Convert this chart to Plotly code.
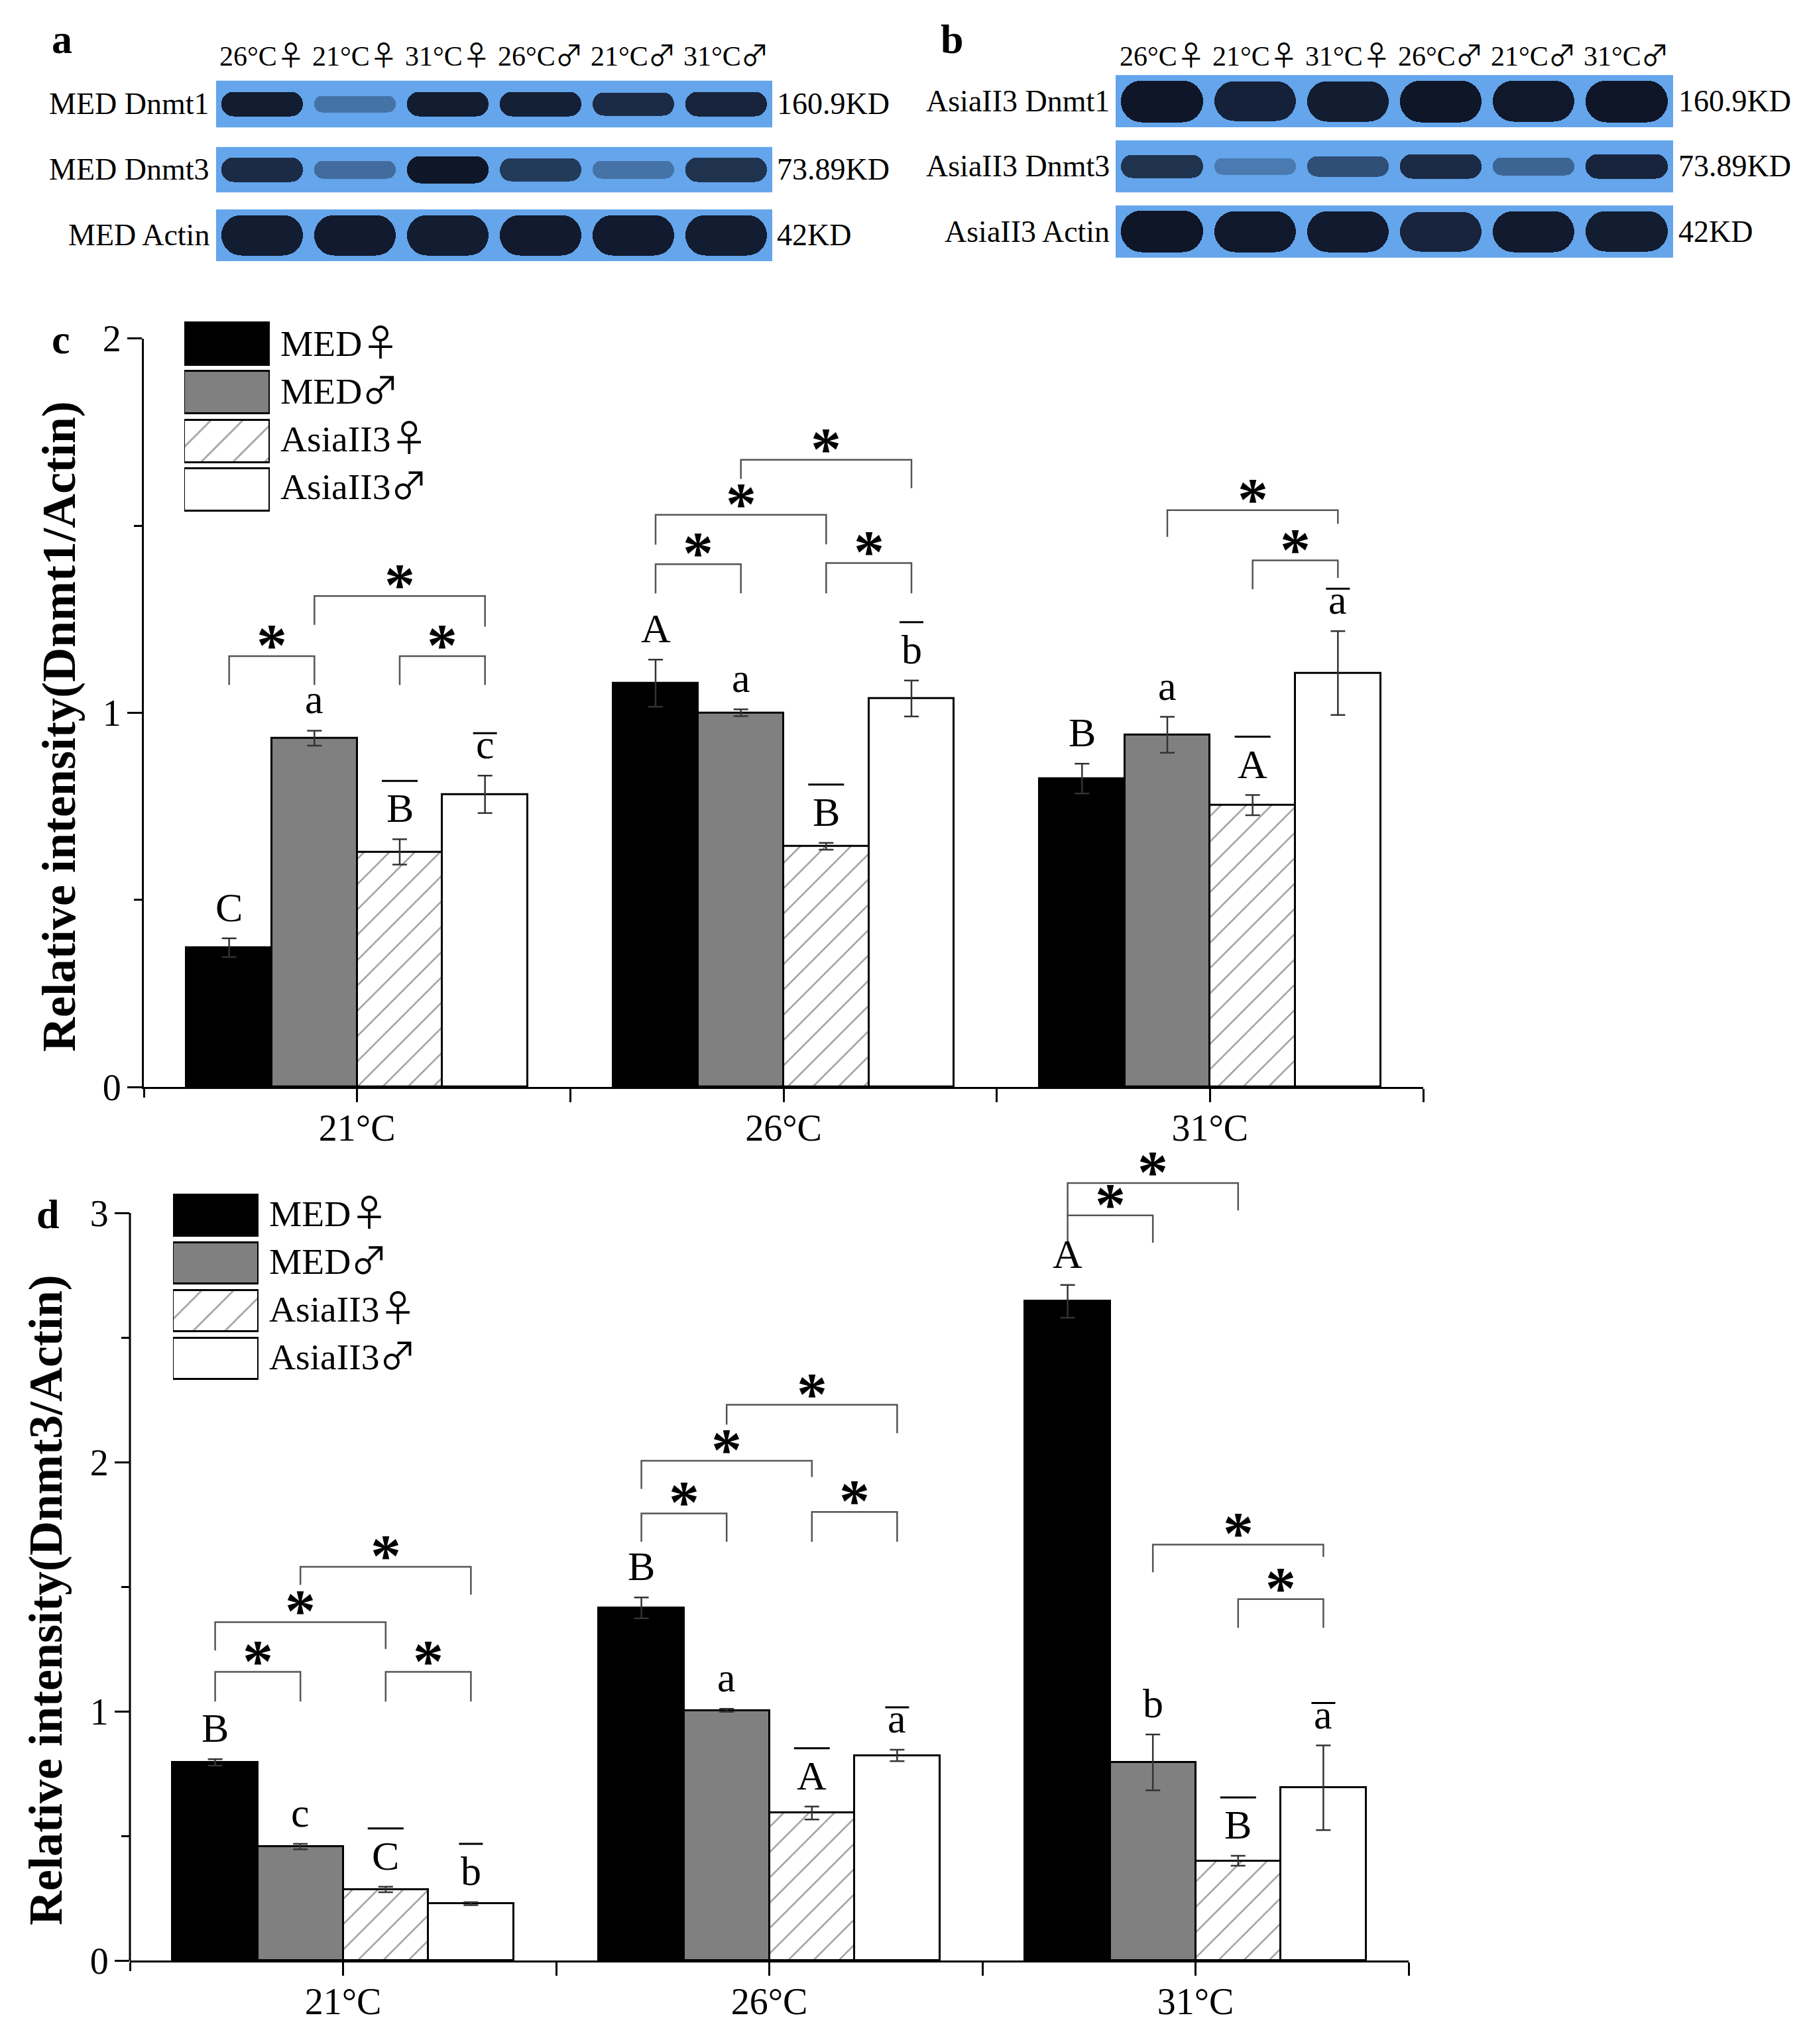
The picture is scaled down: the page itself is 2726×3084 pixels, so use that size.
import plotly.graph_objects as go

W, H = 2726, 3084
SERIF = "Liberation Serif"

# ---------------- data ----------------
groups = ["21°C", "26°C", "31°C"]
series_names = ["MED♀", "MED♂", "AsiaII3♀", "AsiaII3♂"]

# Panel c : Relative intensity (Dnmt1/Actin)
dnmt1_med_female = [0.372, 1.079, 0.824]
dnmt1_med_male = [0.932, 1.000, 0.941]
dnmt1_asia_female = [0.628, 0.643, 0.753]
dnmt1_asia_male = [0.782, 1.038, 1.106]
dnmt1_err_med_female = [0.025, 0.063, 0.040]
dnmt1_err_med_male = [0.020, 0.009, 0.048]
dnmt1_err_asia_female = [0.034, 0.009, 0.027]
dnmt1_err_asia_male = [0.050, 0.048, 0.112]
dnmt1_let_med_female = ["C", "A", "B"]
dnmt1_let_med_male = ["a", "a", "a"]
dnmt1_let_asia_female = ["B", "B", "A"]
dnmt1_let_asia_male = ["c", "b", "a"]
# significance brackets: (group, bar i, bar j, top, left leg end, right leg end)
dnmt1_brackets = [
    (0, 0, 1, 1.151, 1.074, 1.074),
    (0, 2, 3, 1.151, 1.074, 1.074),
    (0, 1, 3, 1.312, 1.235, 1.230),
    (1, 0, 1, 1.397, 1.319, 1.319),
    (1, 2, 3, 1.400, 1.319, 1.319),
    (1, 0, 2, 1.529, 1.449, 1.450),
    (1, 1, 3, 1.676, 1.625, 1.600),
    (2, 1, 3, 1.541, 1.470, 1.505),
    (2, 2, 3, 1.407, 1.330, 1.360),
]

# Panel d : Relative intensity (Dnmt3/Actin)
dnmt3_med_female = [0.795, 1.415, 2.645]
dnmt3_med_male = [0.457, 1.004, 0.795]
dnmt3_asia_female = [0.285, 0.592, 0.400]
dnmt3_asia_male = [0.228, 0.823, 0.693]
dnmt3_err_med_female = [0.013, 0.042, 0.066]
dnmt3_err_med_male = [0.011, 0.006, 0.112]
dnmt3_err_asia_female = [0.011, 0.026, 0.020]
dnmt3_err_asia_male = [0.006, 0.023, 0.170]
dnmt3_let_med_female = ["B", "B", "A"]
dnmt3_let_med_male = ["c", "a", "b"]
dnmt3_let_asia_female = ["C", "A", "B"]
dnmt3_let_asia_male = ["b", "a", "a"]
dnmt3_brackets = [
    (0, 0, 1, 1.158, 1.039, 1.039),
    (0, 2, 3, 1.158, 1.039, 1.039),
    (0, 0, 2, 1.358, 1.244, 1.250),
    (0, 1, 3, 1.580, 1.507, 1.468),
    (1, 0, 1, 1.794, 1.680, 1.680),
    (1, 2, 3, 1.800, 1.680, 1.680),
    (1, 0, 2, 2.005, 1.892, 1.940),
    (1, 1, 3, 2.230, 2.150, 2.116),
    (2, 0, 1, 2.990, 2.880, 2.880),
    (2, 0, 2, 3.120, 2.990, 3.010),
    (2, 1, 3, 1.669, 1.558, 1.620),
    (2, 2, 3, 1.450, 1.335, 1.335),
]

# Western blots (a: MED, b: AsiaII3) - band darkness per lane
lanes = ["26°C♀", "21°C♀", "31°C♀", "26°C♂", "21°C♂", "31°C♂"]
blot_a_rows = ["MED Dnmt1", "MED Dnmt3", "MED Actin"]
blot_b_rows = ["AsiaII3 Dnmt1", "AsiaII3 Dnmt3", "AsiaII3 Actin"]
blot_kd = ["160.9KD", "73.89KD", "42KD"]
blot_a_dnmt1 = [0.95, 0.35, 0.95, 0.93, 0.85, 0.90]
blot_a_dnmt3 = [0.85, 0.40, 1.00, 0.75, 0.35, 0.80]
blot_a_actin = [0.95, 0.97, 0.95, 0.97, 0.97, 0.95]
blot_b_dnmt1 = [1.00, 0.92, 0.95, 1.00, 0.98, 1.00]
blot_b_dnmt3 = [0.80, 0.30, 0.60, 0.85, 0.45, 0.90]
blot_b_actin = [1.00, 0.98, 0.97, 0.90, 0.97, 0.95]

# ---------------- styles ----------------
BW = 0.2
FILLS = ["#000000", "#808080", "#ffffff", "#ffffff"]
PATTERNS = ["", "", "/", ""]
BLOT_BG = (100, 165, 235)
BLOT_DK = (14, 22, 40)
SYM_FONT = "Noto Sans CJK SC"

# chart geometry (pixels of the 2726x3084 canvas)
C_LEFT, C_RIGHT, C_ZERO, C_TOP = 217, 2147, 1640, 510.7
D_LEFT, D_RIGHT, D_ZERO, D_THREE = 196, 2125, 2958, 1830
D_RANGE_TOP = 3.25

fig = go.Figure()


def sym(t):
    # render gender symbols with a font that has them at a proper size
    for ch in ("♀", "♂"):
        t = t.replace(ch, f"<span style='font-family:{SYM_FONT};'>{ch}</span>")
    return t


def px_x(p):
    return p / W


def px_y(p):
    return 1 - p / H


def bar_x(g, s):
    return g + (s - 1.5) * BW


annotations = []
shapes = []


def add_chart(ax, vals, errs, letters, brackets, star_shift):
    xr = "x" if ax == 1 else f"x{ax}"
    yr = "y" if ax == 1 else f"y{ax}"
    for s in range(4):
        xs = [bar_x(g, s) for g in range(len(groups))]
        fig.add_trace(go.Bar(
            x=xs, y=vals[s], width=BW, xaxis=xr, yaxis=yr, showlegend=False,
            name=series_names[s],
            marker=dict(color=FILLS[s], line=dict(color="black", width=3),
                        pattern=dict(shape=PATTERNS[s], fgcolor="#3a3a3a",
                                     bgcolor="white", size=27, solidity=0.09)),
            error_y=dict(type="data", array=errs[s], color="#333333",
                         thickness=2.5, width=11),
        ))
        for g in range(len(groups)):
            top = vals[s][g] + errs[s][g]
            lt = letters[s][g]
            xc = bar_x(g, s)
            annotations.append(dict(
                x=xc, y=top, xref=xr, yref=yr, text=lt, showarrow=False,
                yanchor="bottom", xanchor="center", yshift=11,
                font=dict(family=SERIF, size=62, color="black")))
            if s >= 2:
                tall = lt.isupper() or lt in "bdfhklt"
                hw = 0.042 if lt.isupper() else 0.028
                off = 88 if tall else 64
                shapes.append(dict(
                    type="line", xref=xr, yref=yr, x0=xc - hw, x1=xc + hw,
                    ysizemode="pixel", yanchor=top, y0=off, y1=off,
                    line=dict(color="black", width=3)))
    for (g, i, j, top, lb, rb) in brackets:
        xi, xj = bar_x(g, i), bar_x(g, j)
        shapes.append(dict(
            type="path", xref=xr, yref=yr,
            path=f"M {xi},{lb} L {xi},{top} L {xj},{top} L {xj},{rb}",
            line=dict(color="#555555", width=2.5)))
        annotations.append(dict(
            x=(xi + xj) / 2, y=top, xref=xr, yref=yr, text="<b>*</b>",
            showarrow=False, yanchor="bottom", xanchor="center",
            yshift=star_shift,
            font=dict(family=SERIF, size=92, color="black")))


add_chart(1,
          [dnmt1_med_female, dnmt1_med_male, dnmt1_asia_female, dnmt1_asia_male],
          [dnmt1_err_med_female, dnmt1_err_med_male, dnmt1_err_asia_female, dnmt1_err_asia_male],
          [dnmt1_let_med_female, dnmt1_let_med_male, dnmt1_let_asia_female, dnmt1_let_asia_male],
          dnmt1_brackets, -36)
add_chart(2,
          [dnmt3_med_female, dnmt3_med_male, dnmt3_asia_female, dnmt3_asia_male],
          [dnmt3_err_med_female, dnmt3_err_med_male, dnmt3_err_asia_female, dnmt3_err_asia_male],
          [dnmt3_let_med_female, dnmt3_let_med_male, dnmt3_let_asia_female, dnmt3_let_asia_male],
          dnmt3_brackets, -36)


# ---------------- blots ----------------
def mix(t):
    c = [int(round(BLOT_BG[k] + (BLOT_DK[k] - BLOT_BG[k]) * t)) for k in range(3)]
    return f"rgb({c[0]},{c[1]},{c[2]})"


def add_blot(ax, rows, bands, row_h, thick, label_right_px, kd_left_px):
    xr, yr = f"x{ax}", f"y{ax}"
    for r in range(len(rows)):
        shapes.append(dict(type="rect", xref=xr, yref=yr, x0=-0.5, x1=len(lanes) - 0.5,
                           y0=r - row_h[r] / 2, y1=r + row_h[r] / 2, layer="below",
                           fillcolor=mix(0), line=dict(width=0)))
        hs = [row_h[r] * thick[r] * (0.45 + 0.55 * t) for t in bands[r]]
        fig.add_trace(go.Bar(
            x=list(range(len(lanes))), y=hs, base=[r - h / 2 for h in hs],
            width=0.88, xaxis=xr, yaxis=yr, showlegend=False, hoverinfo="skip",
            marker=dict(color=[mix(t) for t in bands[r]], line=dict(width=0),
                        cornerradius="30%")))
        annotations.append(dict(x=px_x(label_right_px), y=r, xref="paper", yref=yr,
                                text=rows[r], showarrow=False, xanchor="right",
                                yanchor="middle",
                                font=dict(family=SERIF, size=46, color="black")))
        annotations.append(dict(x=px_x(kd_left_px), y=r, xref="paper", yref=yr,
                                text=blot_kd[r], showarrow=False, xanchor="left",
                                yanchor="middle",
                                font=dict(family=SERIF, size=46, color="black")))
    for i, ln in enumerate(lanes):
        annotations.append(dict(x=i, y=px_y(80), xref=xr, yref="paper", text=sym(ln),
                                showarrow=False, xanchor="center", yanchor="middle",
                                font=dict(family=SERIF, size=42, color="black")))


add_blot(3, blot_a_rows, [blot_a_dnmt1, blot_a_dnmt3, blot_a_actin],
         [0.71, 0.69, 0.79], [0.55, 0.6, 0.8], 318, 1170)
add_blot(4, blot_b_rows, [blot_b_dnmt1, blot_b_dnmt3, blot_b_actin],
         [0.80, 0.80, 0.80], [0.8, 0.5, 0.8], 1676, 2530)


# ---------------- legends ----------------
def add_legend(ax):
    xr, yr = f"x{ax}", f"y{ax}"
    fig.add_trace(go.Bar(
        x=[1, 1, 1, 1], y=[3, 2, 1, 0], orientation="h", width=0.87,
        xaxis=xr, yaxis=yr, showlegend=False, hoverinfo="skip", cliponaxis=False,
        marker=dict(color=FILLS, line=dict(color="black", width=3),
                    pattern=dict(shape=PATTERNS, fgcolor="#2a2a2a", bgcolor="white",
                                 size=34, solidity=0.08))))
    # one multi-line text block; its 1.3em line pitch matches the swatch rows
    annotations.append(dict(x=1, y=1.5, xref=xr, yref=yr,
                            text="<br>".join(sym(nm) for nm in series_names),
                            showarrow=False, xanchor="left", yanchor="middle",
                            align="left", xshift=14, yshift=8,
                            font=dict(family=SERIF, size=55.5, color="black")))


add_legend(5)
add_legend(6)

# ---------------- titles / panel letters ----------------
for txt, x, y in [("a", 93, 59), ("b", 1436, 59), ("c", 92, 512), ("d", 72, 1832)]:
    annotations.append(dict(x=px_x(x), y=px_y(y), xref="paper", yref="paper",
                            text=f"<b>{txt}</b>", showarrow=False, xanchor="center",
                            yanchor="middle", font=dict(family=SERIF, size=62, color="black")))
annotations.append(dict(x=px_x(89), y=px_y(1096), xref="paper", yref="paper",
                        text="<b>Relative intensity(Dnmt1/Actin)</b>", textangle=-90,
                        showarrow=False, xanchor="center", yanchor="middle",
                        font=dict(family=SERIF, size=72, color="black")))
annotations.append(dict(x=px_x(69), y=px_y(2414), xref="paper", yref="paper",
                        text="<b>Relative intensity(Dnmt3/Actin)</b>", textangle=-90,
                        showarrow=False, xanchor="center", yanchor="middle",
                        font=dict(family=SERIF, size=72, color="black")))

# manual y axis line for panel d (stops at 3 while range extends for brackets)
shapes.append(dict(type="line", xref="paper", yref="y2", x0=px_x(D_LEFT), x1=px_x(D_LEFT),
                   y0=0, y1=3, line=dict(color="black", width=3)))

tickfont = dict(family=SERIF, size=56, color="black")
xt_vals = [0, 0.5, 1, 1.5, 2, 2.5]
xt_text = [groups[0], "", groups[1], "", groups[2], ""]


def xaxis_cfg(dom):
    return dict(domain=dom, range=[-0.5, 2.5], tickvals=xt_vals, ticktext=xt_text,
                ticks="outside", ticklen=20, tickwidth=3, tickcolor="black",
                minor=dict(tickvals=[-0.5], ticks="outside", ticklen=13, tickwidth=3,
                           tickcolor="black", showgrid=False),
                showline=True, linewidth=3, linecolor="black", showgrid=False,
                zeroline=False, tickfont=tickfont, ticklabelstandoff=-9,
                fixedrange=True, automargin=False)


d_unit = (D_ZERO - D_THREE) / 3.0
d_top_px = D_ZERO - D_RANGE_TOP * d_unit

hidden = dict(visible=False, fixedrange=True, showgrid=False, zeroline=False,
              automargin=False)

fig.update_layout(
    width=W, height=H, margin=dict(l=0, r=0, t=0, b=0, autoexpand=False),
    paper_bgcolor="white", plot_bgcolor="rgba(0,0,0,0)",
    barmode="overlay", bargap=0, showlegend=False,
    font=dict(family=SERIF, color="black"),
    xaxis=xaxis_cfg([px_x(C_LEFT), px_x(C_RIGHT)]),
    yaxis=dict(domain=[px_y(C_ZERO), px_y(C_TOP)], range=[0, 2], tickvals=[0, 1, 2],
               ticks="outside", ticklen=22, tickwidth=3, tickcolor="black",
               minor=dict(tickvals=[0.5, 1.5], ticks="outside", ticklen=12,
                          tickwidth=3, tickcolor="black", showgrid=False),
               showline=True, linewidth=3, linecolor="black", showgrid=False,
               zeroline=False, tickfont=tickfont, fixedrange=True, automargin=False,
               ticklabelstandoff=-2),
    xaxis2=xaxis_cfg([px_x(D_LEFT), px_x(D_RIGHT)]),
    yaxis2=dict(domain=[px_y(D_ZERO), px_y(d_top_px)], range=[0, D_RANGE_TOP],
                tickvals=[0, 1, 2, 3], ticks="outside", ticklen=22, tickwidth=3,
                tickcolor="black",
                minor=dict(tickvals=[0.5, 1.5, 2.5], ticks="outside", ticklen=12,
                           tickwidth=3, tickcolor="black", showgrid=False),
                showline=False, showgrid=False, zeroline=False, tickfont=tickfont,
                fixedrange=True, automargin=False, ticklabelstandoff=-2),
    xaxis3=dict(domain=[px_x(326), px_x(1165)], range=[-0.5, 5.5], anchor="y3", **hidden),
    yaxis3=dict(domain=[px_y(404.5), px_y(107.5)], range=[2.5, -0.5], anchor="x3", **hidden),
    xaxis4=dict(domain=[px_x(1683), px_x(2524)], range=[-0.5, 5.5], anchor="y4", **hidden),
    yaxis4=dict(domain=[px_y(398.5), px_y(103.5)], range=[2.5, -0.5], anchor="x4", **hidden),
    xaxis5=dict(domain=[px_x(278), px_x(407)], range=[0, 1], anchor="y5", **hidden),
    yaxis5=dict(domain=[px_y(776), px_y(482)], range=[-0.5, 3.5], anchor="x5", **hidden),
    xaxis6=dict(domain=[px_x(261), px_x(390)], range=[0, 1], anchor="y6", **hidden),
    yaxis6=dict(domain=[px_y(2086), px_y(1798)], range=[-0.5, 3.5], anchor="x6", **hidden),
    annotations=annotations, shapes=shapes,
)
fig.update_layout(xaxis=dict(anchor="y"), yaxis=dict(anchor="x"),
                  xaxis2=dict(anchor="y2"), yaxis2=dict(anchor="x2"))

fig.write_html("out.html", config={"displayModeBar": False},
               post_script="document.body.style.margin='0';")
